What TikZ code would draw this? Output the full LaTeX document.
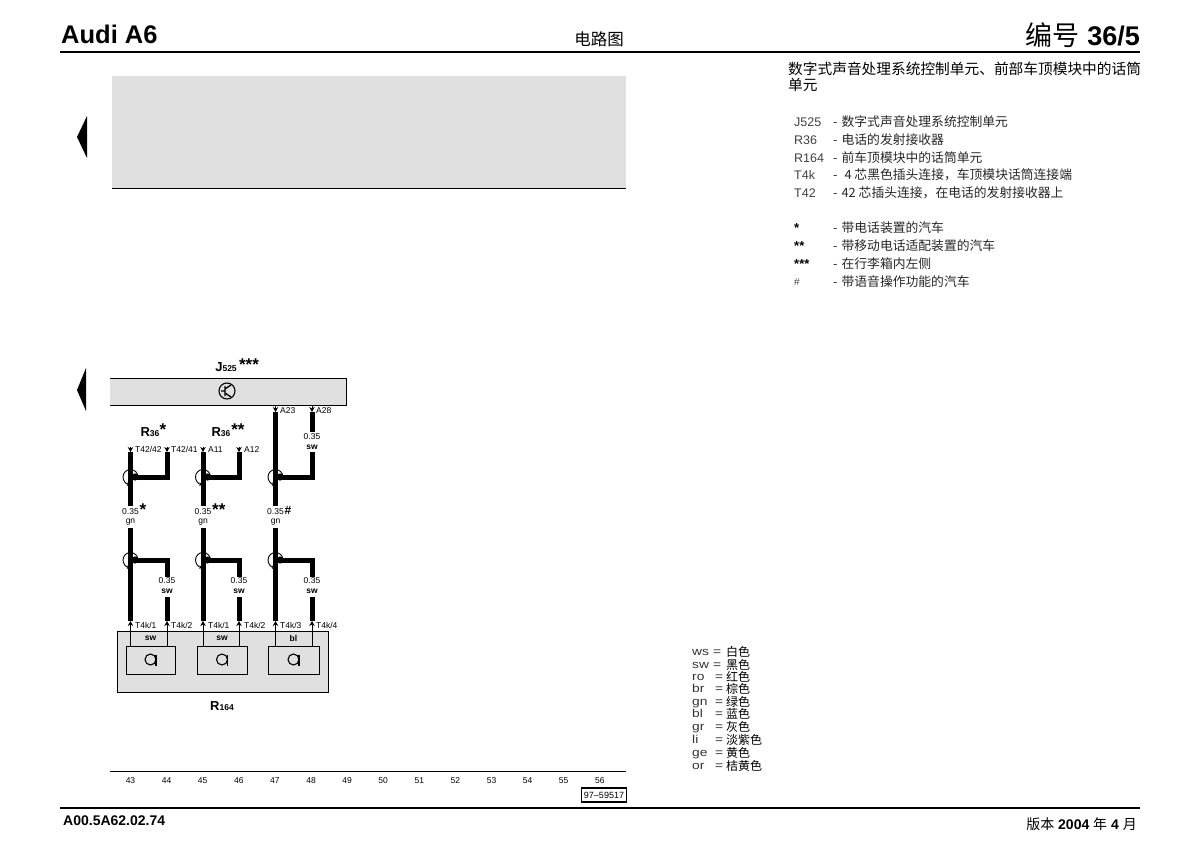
\documentclass[tikz,border=0pt]{standalone}
\usepackage{fontspec}
\setmainfont{Liberation Sans}
\newfontfamily\cjk{Noto Sans CJK SC}
\newfontfamily\widesans[FakeStretch=1.2]{Liberation Sans}
\usetikzlibrary{arrows.meta}
\newcommand{\fsz}[1]{\fontsize{#1}{#1}\selectfont}
\tikzset{
	wirethick/.style={line width=5pt},
	pinup/.style={line width=0.7pt, -{Stealth[length=5pt,width=5.5pt]}},
	pinlabel/.style={anchor=west, inner sep=0pt, font=\fsz{8.5}},
	wirelabel/.style={inner sep=0pt, align=center, font=\fsz{8.5}},
	star/.style={inner sep=0pt, font=\bfseries\fsz{17}},
	partname/.style={inner sep=0pt, font=\bfseries\fsz{13}},
	legendtext/.style={anchor=west, inner sep=0pt, font=\cjk\fsz{12.8}, text=black!85},
	legendkey/.style={anchor=west, inner sep=0pt, font=\fsz{12.5}, text=black!75},
	colourtext/.style={anchor=west, inner sep=0pt, font=\widesans\fsz{11.5}, text=black!80, text height=8pt, text depth=2.5pt},
	colourcjk/.style={anchor=west, inner sep=0pt, font=\cjk\fsz{12}, text height=9pt, text depth=2pt},
	pointer/.style={fill=black, draw=none},
	gridnum/.style={inner sep=0pt, font=\fsz{8.5}}
}
\begin{document}
\begin{tikzpicture}[x=1pt, y=-1pt]
	\useasboundingbox (0,0) rectangle (1200,848);
	% page frame
	\node[anchor=base west, inner sep=0pt, font=\bfseries\fsz{25.5}] (model) at (61,44) {Audi A6};
	\node[inner sep=0pt, font=\cjk\fsz{16.5}] (kind) at (599,39) {电路图};
	\node[anchor=base east, inner sep=0pt, font=\bfseries\fsz{27}] (sheet) at (1140,46) {{\cjk\fontseries{m}\selectfont 编号} 36/5};
	\draw[line width=1.3pt] (60,52) -- (1140,52);
	\draw[line width=1.3pt] (60,808) -- (1140,808);
	\node[anchor=base west, inner sep=0pt, font=\bfseries\fsz{14}] (docno) at (63,825) {A00.5A62.02.74};
	\node[anchor=base east, inner sep=0pt, font=\fsz{14}] (version) at (1137,829) {{\cjk 版本}\ \textbf{2004}\ {\cjk 年}\ \textbf{4}\ {\cjk 月}};
	% grey field and pointers
	\fill[black!12] (112,76) rectangle (626,188);
	\draw[line width=0.9pt] (112,188) -- (626,188);
	\fill[pointer] (77,137) -- (87,116) -- (87,158) -- cycle;
	\fill[pointer] (77,390) -- (86,368) -- (86,411) -- cycle;
	% heading and keys
	\node[anchor=north west, inner sep=0pt, font=\cjk\fsz{14.7}, align=left] (heading) at (788,62) {数字式声音处理系统控制单元、前部车顶模块中的话筒\\[0.05em]单元};
	\foreach \y/\key/\txt in {122/J525/数字式声音处理系统控制单元, 140/R36/电话的发射接收器, 158/R164/前车顶模块中的话筒单元, 175/T4k/{\ 4 芯黑色插头连接，车顶模块话筒连接端}, 193/T42/{42 芯插头连接，在电话的发射接收器上}} {
		\node[legendkey] (key\key) at (794,\y) {\key};
		\node[legendtext] (txt\key) at (833,\y) {-\hspace{4pt}\txt};
	}
	\foreach \y/\key/\txt/\nm in {228/*/带电话装置的汽车/a, 246/**/带移动电话适配装置的汽车/b, 264/***/在行李箱内左侧/c} {
		\node[legendkey, font=\bfseries\fsz{13}, text=black] (key\nm) at (794,\y) {\key};
		\node[legendtext] (txt\nm) at (833,\y) {-\hspace{4pt}\txt};
	}
	\node[legendkey, font=\fsz{10}] (keyd) at (794,282) {\#};
	\node[legendtext] (txtd) at (833,282) {-\hspace{4pt}带语音操作功能的汽车};
	% colour table
	\foreach \y/\code/\eqx/\txt in {653/ws/713/白色, 665.5/sw/713/黑色, 677.5/ro/715/红色, 690/br/715/棕色, 702.5/gn/715/绿色, 715/bl/715/蓝色, 728/gr/715/灰色, 741/li/715/淡紫色, 754/ge/715/黄色, 767/or/715/桔黄色} {
		\node[colourtext] (c\code) at (692,\y) {\code};
		\node[colourtext] (e\code) at (\eqx,\y) {=};
		\node[colourcjk] (t\code) at (726,\y) {\txt};
	}
	% control unit
	\fill[black!12] (110,378) rectangle (346,405);
	\draw[line width=1pt] (110,378) -- (346,378) -- (346,405) -- (110,405);
	\node[partname] (unit) at (226,367) {J\fsz{8.5}525};
	\node[star] (unitstar) at (249,365) {***};
	\node[draw, circle, line width=1.1pt, minimum size=16pt, inner sep=0pt] (sym) at (227,391) {};
	\draw[line width=1.3pt] (225,386) -- (225,396) (221,391) -- (225,391) (225,389) -- (231,385) (225,393) -- (231,397);
	% part names above wires
	\node[partname] (phonea) at (150,432) {R\fsz{8.5}36};
	\node[star] (phoneastar) at (163,430) {*};
	\node[partname] (phoneb) at (221,432) {R\fsz{8.5}36};
	\node[star] (phonebstar) at (238,430) {**};
	% wire columns: name/main x/side x/upper sign
	\foreach \n/\xa/\xb/\sgn in {a/130.5/167/*, b/203/239/**, c/275.5/312/{\fsz{12}\#}} {
		\coordinate (\n uptop) at (\xa,452);
		\coordinate (\n upend) at (\xa,506);
		\coordinate (\n lowtop) at (\xa,528);
		\coordinate (\n pin) at (\xa,621);
		\coordinate (\n port) at (\xa,631);
		\coordinate (\n twista) at (\xa,477);
		\coordinate (\n twistb) at (\xa,560);
		\coordinate (\n sidetop) at (\xb,452);
		\coordinate (\n sidebend) at (\xb,477);
		\coordinate (\n lowbend) at (\xb,560);
		\coordinate (\n lowcut) at (\xb,577);
		\coordinate (\n lowres) at (\xb,597);
		\coordinate (\n sidepin) at (\xb,621);
		\coordinate (\n sideport) at (\xb,631);
		\draw[wirethick] (\n uptop) -- (\n upend);
		\draw[wirethick] (\n lowtop) -- (\n pin);
		\draw[wirethick] (\n sidetop) -- (\n sidebend) -- ([xshift=4pt]\n twista);
		\draw[wirethick] (\n lowcut) -- (\n lowbend) -- ([xshift=4pt]\n twistb);
		\draw[wirethick] (\n lowres) -- (\n sidepin);
		\fill ([xshift=4.5pt]\n twista) circle[radius=3.6pt];
		\fill ([xshift=4.5pt]\n twistb) circle[radius=3.6pt];
		\draw[line width=0.9pt, -{Stealth[length=3pt,width=3.5pt]}] ([xshift=7.5pt]\n twista) arc[start angle=0, end angle=265, radius=7.5pt];
		\draw[line width=0.9pt, -{Stealth[length=3pt,width=3.5pt]}] ([xshift=7.5pt]\n twistb) arc[start angle=0, end angle=265, radius=7.5pt];
		\node[wirelabel] (\n gauge) at (\xa,512) {0.35};
		\node[wirelabel] (\n col) at (\xa,522) {gn};
		\node[star, anchor=west] (\n sign) at (\xa+9,510) {\sgn};
		\node[wirelabel] (\n lowgauge) at (\xb,581) {0.35};
		\node[wirelabel] (\n lowcol) at (\xb,591) {\bfseries sw};
		\draw[pinup] (\n port) -- (\n pin);
		\draw[pinup] (\n sideport) -- (\n sidepin);
	}
	% upper pins
	\draw[pinup] ([yshift=5pt]auptop) -- (auptop);
	\draw[pinup] ([yshift=5pt]asidetop) -- (asidetop);
	\draw[pinup] ([yshift=5pt]buptop) -- (buptop);
	\draw[pinup] ([yshift=5pt]bsidetop) -- (bsidetop);
	\node[pinlabel] (pinaa) at (135,449.5) {T42/42};
	\node[pinlabel] (pinab) at (171,449.5) {T42/41};
	\node[pinlabel] (pinba) at (208,449.5) {A11};
	\node[pinlabel] (pinbb) at (244,449.5) {A12};
	% right hand column runs up to the unit
	\coordinate (cunita) at (275.5,405);
	\coordinate (cunitb) at (312,405);
	\coordinate (cwirea) at (275.5,412);
	\coordinate (cwireb) at (312,412);
	\coordinate (cwirec) at (312,432);
	\coordinate (cwired) at (312,453);
	\draw[pinup] (cunita) -- (cwirea);
	\draw[pinup] (cunitb) -- (cwireb);
	\draw[wirethick] (cwirea) -- (cuptop);
	\draw[wirethick] (cwireb) -- (cwirec);
	\draw[wirethick] (cwired) -- (csidebend);
	\node[pinlabel] (pina) at (280,410.5) {A23};
	\node[pinlabel] (pinb) at (316,410.5) {A28};
	\node[wirelabel] (cgaugeb) at (312,437) {0.35};
	\node[wirelabel] (ccolb) at (312,447) {\bfseries sw};
	% microphone unit
	\fill[black!12] (117,631) rectangle (328,692);
	\draw[line width=0.9pt] (117,631) rectangle (328,692);
	\foreach \n/\xl/\xr/\xa/\xb/\cl in {a/126/175/130.5/167/sw, b/197/247/203/239/sw, c/268/319/275.5/312/bl} {
		\draw[line width=0.9pt] (\xl,646) rectangle (\xr,674);
		\draw[line width=0.7pt] (\n port) -- (\xa,646);
		\draw[line width=0.7pt] (\n sideport) -- (\xb,646);
		\draw[line width=1.1pt] ({(\xl+\xr)/2},659.5) circle[radius=5.5pt];
		\draw[line width=1.1pt] ({(\xl+\xr)/2+5.5},655) -- ({(\xl+\xr)/2+5.5},666);
		\node[inner sep=0pt, font=\bfseries\fsz{8.5}] (\n code) at ({(\xl+\xr)/2},638.5) {\cl};
	}
	\node[pinlabel] (portaa) at (135,625) {T4k/1};
	\node[pinlabel] (portab) at (171,625) {T4k/2};
	\node[pinlabel] (portba) at (208,625) {T4k/1};
	\node[pinlabel] (portbb) at (244,625) {T4k/2};
	\node[pinlabel] (portca) at (280,625) {T4k/3};
	\node[pinlabel] (portcb) at (316,625) {T4k/4};
	\node[partname] (micunit) at (222,706) {R\fsz{8.5}164};
	% track numbers
	\draw[line width=1pt] (110,771) -- (626,771);
	\foreach \i in {43,...,56} {
		\node[gridnum] (num\i) at ({130.5+(\i-43)*36.1},781) {\i};
	}
	\node[draw, line width=1.2pt, inner sep=0pt, minimum width=45pt, minimum height=14pt, font=\fsz{9}] (drawno) at (604,795) {97--59517};
\end{tikzpicture}
\end{document}
